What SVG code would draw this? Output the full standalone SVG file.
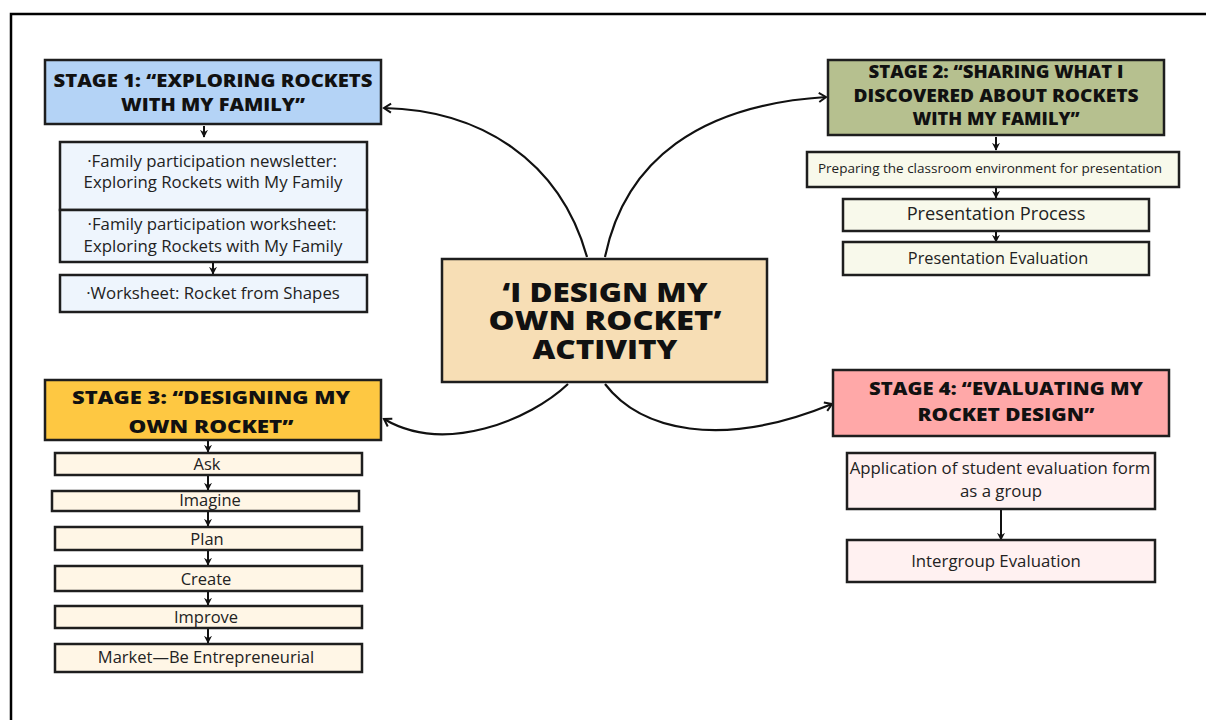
<svg xmlns="http://www.w3.org/2000/svg" width="1206" height="720" viewBox="0 0 1206 720">
  <style>
    .box { stroke: #1e1e1e; stroke-width: 2.5; }
    .head { font-family: "Open Sans", "Liberation Sans", sans-serif; font-weight: 800; font-size: 17px; fill: #111; text-anchor: middle; }
    .title { font-family: "Open Sans", "Liberation Sans", sans-serif; font-weight: 800; font-size: 27px; fill: #111; text-anchor: middle; }
    .txt { font-family: "Open Sans", "Liberation Sans", sans-serif; font-size: 16.8px; fill: #222; text-anchor: middle; }
    .s1h { fill: #b4d3f6; } .s1 { fill: #eef5fd; }
    .s2h { fill: #b6c08f; } .s2 { fill: #f8f9eb; }
    .s3h { fill: #fec842; } .s3 { fill: #fff6e6; }
    .s4h { fill: #ffa8a8; } .s4 { fill: #fff1f1; }
    .core { fill: #f7deb5; }
    .curve { fill: none; stroke: #111; stroke-width: 2.2; marker-end: url(#open); }
    .step { fill: none; stroke: #111; stroke-width: 2; marker-end: url(#tip); }
  </style>
  <defs>
    <marker id="open" viewBox="0 0 12 12" refX="10" refY="6" markerWidth="12" markerHeight="12" markerUnits="userSpaceOnUse" orient="auto">
      <path d="M3,1.5 L10,6 L3,10.5" fill="none" stroke="#111" stroke-width="2"/>
    </marker>
    <marker id="tip" viewBox="0 0 10 10" refX="9" refY="5" markerWidth="8" markerHeight="8" markerUnits="userSpaceOnUse" orient="auto">
      <path d="M0,0 L10,5 L0,10 L3,5 z" fill="#111"/>
    </marker>
  </defs>

  <rect width="1206" height="720" fill="#fff"/>
  <!-- page frame -->
  <path d="M11,720 V14 H1206" fill="none" stroke="#000" stroke-width="2.5"/>

  <!-- connectors -->
  <g id="connectors">
    <path class="curve" d="M587,257 C560,160 480,110 384,108"/>
    <path class="curve" d="M605,257 C625,160 700,105 826,97"/>
    <path class="curve" d="M568,384 C530,420 445,455 384,419"/>
    <path class="curve" d="M605,384 C640,430 720,450 832,404"/>

    <path class="step" d="M204,126 V137"/>
    <path class="step" d="M213,219 V208"/>
    <path class="step" d="M213,262 V274"/>

    <path class="step" d="M996,137 V150"/>
    <path class="step" d="M996,188 V198"/>
    <path class="step" d="M996,232 V242"/>

    <path class="step" d="M208,441 V452"/>
    <path class="step" d="M208,476 V490"/>
    <path class="step" d="M208,512 V526"/>
    <path class="step" d="M208,551 V565"/>
    <path class="step" d="M208,592 V605"/>
    <path class="step" d="M208,629 V643"/>

    <path class="step" d="M1001,509 V540"/>
  </g>

  <!-- central activity -->
  <g id="activity">
    <rect class="box core" x="442" y="259" width="325" height="123"/>
    <text class="title" x="605" y="302" textLength="205" lengthAdjust="spacingAndGlyphs">‘I DESIGN MY</text>
    <text class="title" x="605" y="330" textLength="233" lengthAdjust="spacingAndGlyphs">OWN ROCKET’</text>
    <text class="title" x="605" y="359" textLength="145" lengthAdjust="spacingAndGlyphs">ACTIVITY</text>
  </g>

  <!-- stage 1 -->
  <g id="stage1">
    <rect class="box s1h" x="45" y="60" width="336" height="64"/>
    <text class="head" x="213" y="87" textLength="319" lengthAdjust="spacingAndGlyphs">STAGE 1: “EXPLORING ROCKETS</text>
    <text class="head" x="213" y="111" textLength="184" lengthAdjust="spacingAndGlyphs">WITH MY FAMILY”</text>
  </g>
  <g id="s1-newsletter">
    <rect class="box s1" x="60" y="142" width="307" height="68"/>
    <text class="txt" x="212" y="167">·Family participation newsletter:</text>
    <text class="txt" x="213" y="188">Exploring Rockets with My Family</text>
  </g>
  <g id="s1-worksheet">
    <rect class="box s1" x="60" y="210" width="307" height="52"/>
    <text class="txt" x="212" y="230">·Family participation worksheet:</text>
    <text class="txt" x="213" y="252">Exploring Rockets with My Family</text>
  </g>
  <g id="s1-shapes">
    <rect class="box s1" x="60" y="275" width="307" height="37"/>
    <text class="txt" x="213" y="299">·Worksheet: Rocket from Shapes</text>
  </g>

  <!-- stage 2 -->
  <g id="stage2">
    <rect class="box s2h" x="828" y="60" width="336" height="75"/>
    <text class="head" x="996" y="78" textLength="255" lengthAdjust="spacingAndGlyphs">STAGE 2: “SHARING WHAT I</text>
    <text class="head" x="996" y="102" textLength="285" lengthAdjust="spacingAndGlyphs">DISCOVERED ABOUT ROCKETS</text>
    <text class="head" x="996" y="125" textLength="167" lengthAdjust="spacingAndGlyphs">WITH MY FAMILY”</text>
  </g>
  <g id="s2-prepare">
    <rect class="box s2" x="807" y="152" width="372" height="35"/>
    <text class="txt" x="990" y="173" style="font-size:13.5px">Preparing the classroom environment for presentation</text>
  </g>
  <g id="s2-process">
    <rect class="box s2" x="843" y="199" width="306" height="32"/>
    <text class="txt" x="996" y="220" style="font-size:18.2px">Presentation Process</text>
  </g>
  <g id="s2-evaluation">
    <rect class="box s2" x="843" y="242" width="306" height="33"/>
    <text class="txt" x="998" y="264" style="font-size:16.3px">Presentation Evaluation</text>
  </g>

  <!-- stage 3 -->
  <g id="stage3">
    <rect class="box s3h" x="45" y="380" width="336" height="60"/>
    <text class="head" x="211" y="404" textLength="278" lengthAdjust="spacingAndGlyphs">STAGE 3: “DESIGNING MY</text>
    <text class="head" x="211" y="433" textLength="165" lengthAdjust="spacingAndGlyphs">OWN ROCKET”</text>
  </g>
  <g id="s3-ask">
    <rect class="box s3" x="55" y="453" width="307" height="22"/>
    <text class="txt" x="207" y="470" style="font-size:16.5px">Ask</text>
  </g>
  <g id="s3-imagine">
    <rect class="box s3" x="52" y="491" width="307" height="20"/>
    <text class="txt" x="210" y="506" style="font-size:16.5px">Imagine</text>
  </g>
  <g id="s3-plan">
    <rect class="box s3" x="55" y="527" width="307" height="23"/>
    <text class="txt" x="207" y="545" style="font-size:16.5px">Plan</text>
  </g>
  <g id="s3-create">
    <rect class="box s3" x="55" y="566" width="307" height="25"/>
    <text class="txt" x="206" y="585" style="font-size:16.5px">Create</text>
  </g>
  <g id="s3-improve">
    <rect class="box s3" x="55" y="606" width="307" height="22"/>
    <text class="txt" x="206" y="623" style="font-size:16.5px">Improve</text>
  </g>
  <g id="s3-market">
    <rect class="box s3" x="55" y="644" width="307" height="28"/>
    <text class="txt" x="206" y="663" style="font-size:16.5px">Market—Be Entrepreneurial</text>
  </g>

  <!-- stage 4 -->
  <g id="stage4">
    <rect class="box s4h" x="833" y="370" width="336" height="66"/>
    <text class="head" x="1006" y="395" textLength="274" lengthAdjust="spacingAndGlyphs">STAGE 4: “EVALUATING MY</text>
    <text class="head" x="1006" y="421" textLength="177" lengthAdjust="spacingAndGlyphs">ROCKET DESIGN”</text>
  </g>
  <g id="s4-form">
    <rect class="box s4" x="847" y="453" width="308" height="56"/>
    <text class="txt" x="1000" y="474">Application of student evaluation form</text>
    <text class="txt" x="1001" y="497">as a group</text>
  </g>
  <g id="s4-intergroup">
    <rect class="box s4" x="847" y="540" width="308" height="42"/>
    <text class="txt" x="996" y="567">Intergroup Evaluation</text>
  </g>
</svg>
